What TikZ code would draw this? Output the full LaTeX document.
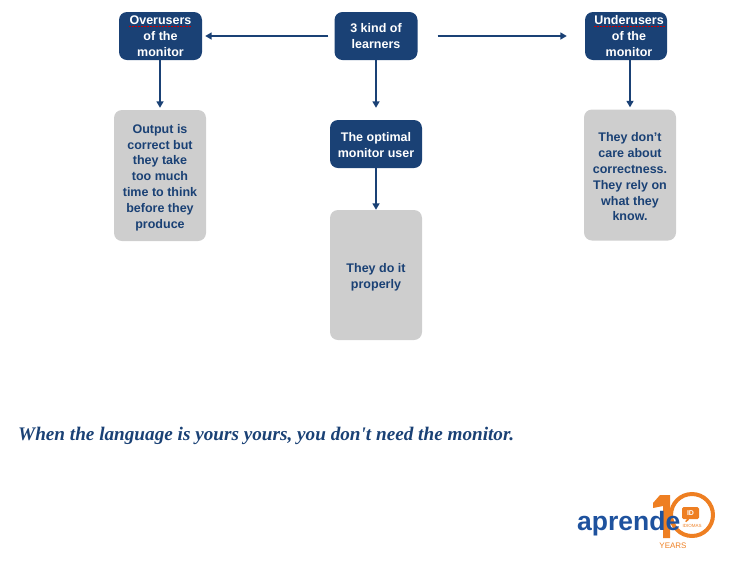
\documentclass[tikz,border=0pt]{standalone}
\usepackage{fontspec}
\setmainfont{Liberation Sans}
\newfontfamily\scriptish{Liberation Serif}
\usetikzlibrary{arrows.meta}
\definecolor{navy}{HTML}{1A4175}
\definecolor{boxgray}{HTML}{CECECE}
\definecolor{logoblue}{HTML}{1E529E}
\definecolor{logoorange}{HTML}{EE7F22}
\tikzset{
  x=1pt,y=-1pt,
  basebox/.style={rounded corners=8pt,inner sep=0pt,align=center,
    font=\fontsize{12.5}{15.8}\selectfont\bfseries},
  bluebox/.style={basebox,fill=navy,text=white,minimum width=#1,minimum height=48pt},
  graybox/.style={basebox,fill=boxgray,text=navy,minimum width=92pt,minimum height=#1},
  link/.style={draw=navy,line width=1.8pt,-{Triangle[length=6.5pt,width=7pt]}},
  spell/.style={draw=red!80!black,line width=0.9pt,dash pattern=on 1.5pt off 1.5pt},
}
\begin{document}
\begin{tikzpicture}
\useasboundingbox (0,0) rectangle (745,566);
\node[bluebox=83pt] (over) at (160.5,36) {Overusers\\of the\\monitor};
\node[bluebox=83pt] (kind) at (376,36) {3 kind of\\learners};
\node[bluebox=82pt] (under) at (626,36) {\hspace{6pt}Underusers\\\hspace{6pt}of the\\\hspace{6pt}monitor};
\node[bluebox=92pt] (opt) at (376,144) {\rule{0pt}{11pt}The optimal\\monitor user};
\node[graybox=131pt] (gl) at (160,175.5) {\rule{0pt}{13pt}Output is\\correct but\\they take\\too much\\time to think\\before they\\produce};
\node[graybox=130pt] (gc) at (376,275) {\rule{0pt}{13pt}They do it\\properly};
\node[graybox=131pt] (gr) at (630,175) {\rule{0pt}{13pt}They don’t\\care about\\correctness.\\They rely on\\what they\\know.};
\draw[spell] (129,26.5) -- (191,26.5);
\draw[spell] (594,26.5) -- (665,26.5);
\draw[link,shorten <=6pt,shorten >=3pt] (kind.west) -- (over.east);
\draw[link,shorten <=20pt,shorten >=18pt] (kind.east) -- (under.west);
\draw[link,shorten >=2pt] (gl.north |- over.south) -- (gl.north);
\draw[link,shorten >=12pt] (kind.south) -- (opt.north);
\draw[link] (opt.south) -- (gc.north);
\draw[link,shorten >=2pt] (gr.north |- under.south) -- (gr.north);
\node[anchor=base west,inner sep=0pt,text=navy,font=\scriptish\fontsize{19.2}{24}\selectfont\bfseries\itshape] (msg) at (18,440) {When the language is yours yours, you don't need the monitor.};
% logo
\draw[logoorange,line width=4pt] (692,515) circle (21);
\fill[logoorange] (653,503) -- (660,495) -- (670,495) -- (670,538) -- (663,538) -- (663,506) -- (653,508) -- cycle;
\fill[logoorange,rounded corners=1.5pt] (682,507) rectangle (699,519) (686,519) -- (690,519) -- (685,523) -- cycle;
\node[inner sep=0pt,text=white,font=\fontsize{7}{7}\selectfont\bfseries] (idt) at (690.5,513) {ID};
\node[inner sep=0pt,text=logoorange,font=\fontsize{4.5}{5}\selectfont] (idi) at (692,525.5) {IDIOMAS};
\node[anchor=base west,inner sep=0pt,text=logoblue,font=\fontsize{26.5}{28}\selectfont\bfseries] (apr) at (577,530) {aprende};
\node[inner sep=0pt,text=logoorange,font=\fontsize{8}{9}\selectfont] (yrs) at (673,545.5) {YEARS};
\end{tikzpicture}
\end{document}
